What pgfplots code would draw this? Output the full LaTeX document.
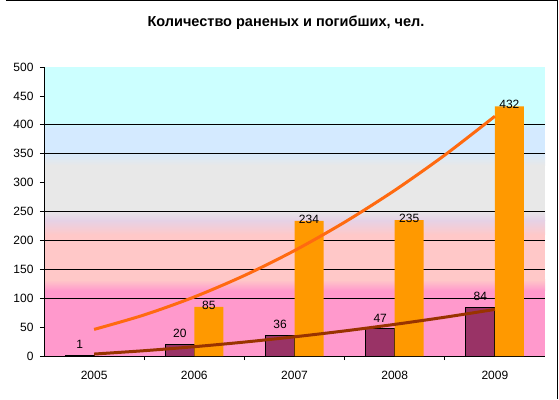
\documentclass[border=0pt]{standalone}
\usepackage{pgfplots}
\pgfplotsset{compat=1.18}
\usepackage{fontspec}
\setmainfont{Liberation Sans}
\definecolor{barP}{HTML}{993366}
\definecolor{barO}{HTML}{FF9900}
\definecolor{trO}{HTML}{FF6A10}
\definecolor{trB}{HTML}{993300}
\definecolor{bgPink}{HTML}{FF99CC}
\definecolor{bgLPink}{HTML}{FFC8C8}
\definecolor{bgLav}{HTML}{E6D2E6}
\definecolor{bgGray}{HTML}{E8E8E8}
\definecolor{bgLBlue}{HTML}{D4EAFF}
\definecolor{bgCyan}{HTML}{CCFFFF}
\begin{document}
\begin{tikzpicture}
\path (-44pt,-43pt) rectangle (515pt,356pt);
\begin{axis}[
  set layers,
  scale only axis, width=501pt, height=289pt,
  at={(0,0)}, anchor=south west,
  xmin=-0.5, xmax=4.5, ymin=0, ymax=500,
  axis x line*=bottom, axis y line*=left,
  axis line style={black, line width=0.8pt, -},
  tick align=outside, major tick length=4pt,
  tick style={black, line width=0.8pt},
  xtick={0.5,1.5,2.5,3.5}, xticklabels={},
  extra x ticks={0,1,2,3,4},
  extra x tick labels={2005,2006,2007,2008,2009},
  extra x tick style={major tick length=0pt, xticklabel style={yshift=-12pt}},
  ytick={0,50,...,500},
  yticklabel style={xshift=-3pt},
  extra y ticks={100,150,200,250,350,400},
  extra y tick labels={},
  extra y tick style={grid=major, major tick length=0pt},
  major grid style={black, line width=0.8pt},
  ticklabel style={font=\fontsize{12}{14}\selectfont},
  /pgf/number format/assume math mode=true,
  title={Количество раненых и погибших, чел.},
  title style={font=\bfseries\fontsize{14.5}{17}\selectfont, anchor=base, at={(0.483,1)}, yshift=35pt},
]
\begin{pgfonlayer}{axis background}
\fill[bgPink] (axis cs:-0.5,0) rectangle (axis cs:4.5,113);
\shade[bottom color=bgPink, top color=bgLPink] (axis cs:-0.5,113) rectangle (axis cs:4.5,132);
\fill[bgLPink] (axis cs:-0.5,132) rectangle (axis cs:4.5,210);
\shade[bottom color=bgLPink, top color=bgLav] (axis cs:-0.5,210) rectangle (axis cs:4.5,235);
\shade[bottom color=bgLav, top color=bgGray] (axis cs:-0.5,235) rectangle (axis cs:4.5,252);
\fill[bgGray] (axis cs:-0.5,252) rectangle (axis cs:4.5,330);
\shade[bottom color=bgGray, top color=bgLBlue] (axis cs:-0.5,330) rectangle (axis cs:4.5,355);
\fill[bgLBlue] (axis cs:-0.5,355) rectangle (axis cs:4.5,395);
\shade[bottom color=bgLBlue, top color=bgCyan] (axis cs:-0.5,395) rectangle (axis cs:4.5,405);
\fill[bgCyan] (axis cs:-0.5,405) rectangle (axis cs:4.5,500);
\end{pgfonlayer}
\addplot[ybar, bar width=29pt, bar shift=-14.5pt, fill=barP, draw=black, line width=1pt,
  nodes near coords,
  nodes near coords style={font=\fontsize{12}{14}\selectfont, anchor=south, inner sep=0pt, yshift=6pt, xshift=-14.5pt, black}]
  coordinates {(0,1) (1,20) (2,36) (3,47) (4,84)};
\addplot[ybar, bar width=29pt, bar shift=14.5pt, fill=barO, draw=none,
  nodes near coords,
  nodes near coords style={font=\fontsize{12}{14}\selectfont, anchor=south, inner sep=0pt, yshift=-3pt, xshift=14.5pt, black}]
  coordinates {(1,85) (2,234) (3,235) (4,432)};
\addplot[smooth, no marks, color=trB, line width=3pt]
  coordinates {(0,3.4) (0.5,9.2) (1,16.1) (1.5,24.1) (2,33.2) (2.5,43.4) (3,54.7) (3.5,67.1) (4,80.6)};
\addplot[smooth, no marks, color=trO, line width=3pt]
  coordinates {(0,46.0) (0.5,71.1) (1,102.2) (1.5,139.3) (2,182.4) (2.5,231.5) (3,286.6) (3.5,347.7) (4,414.8)};
\end{axis}
\draw[line width=1.2pt] (-38pt,355.4pt) -- (513.5pt,355.4pt) -- (513.5pt,-43pt);
\end{tikzpicture}
\end{document}
